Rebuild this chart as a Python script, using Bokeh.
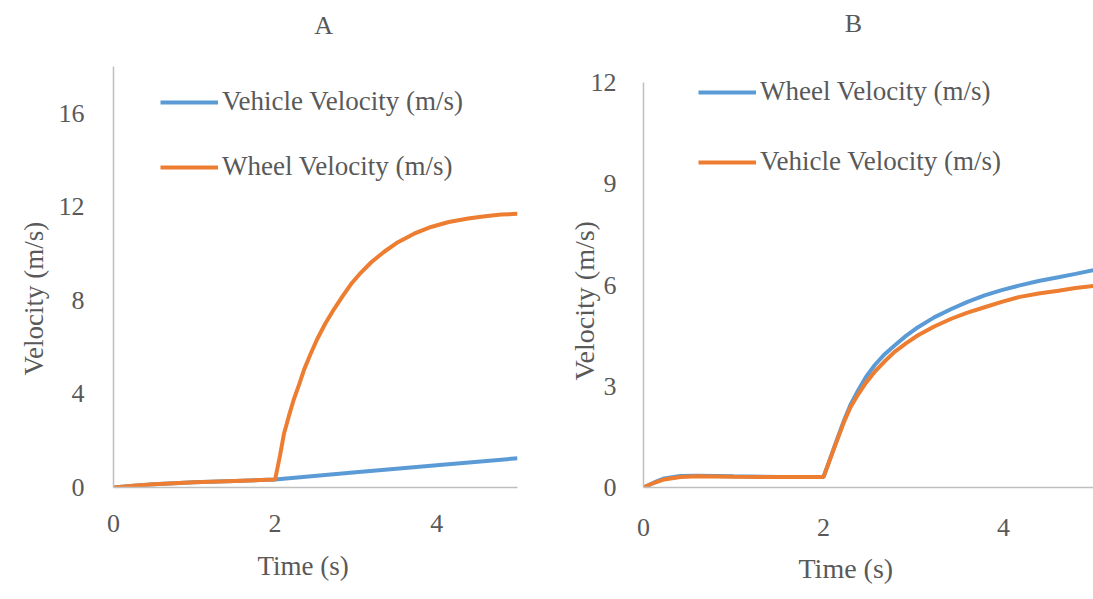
from bokeh.plotting import figure
from bokeh.models import Range1d, FixedTicker, Legend, LegendItem, Title, Label
from bokeh.layouts import row
from bokeh.embed import file_html
from bokeh.resources import INLINE

# ---------------- data ----------------
# Panel A
a_vehicle_t = [0, 0.25, 0.5, 1.0, 1.5, 2.0, 3.0, 4.0, 5.0]
a_vehicle_v = [0, 0.08, 0.14, 0.22, 0.28, 0.34, 0.65, 0.95, 1.25]
a_wheel_t = [0, 0.25, 0.5, 1.0, 1.5, 2.0, 2.06, 2.11, 2.17, 2.23, 2.30, 2.36, 2.44, 2.52, 2.62,
             2.73, 2.84, 2.94, 3.06, 3.19, 3.35, 3.52, 3.72, 3.93, 4.15, 4.39, 4.6, 4.8, 5.0]
a_wheel_v = [0, 0.08, 0.14, 0.22, 0.28, 0.34, 1.35, 2.3, 3.05, 3.75, 4.43, 5.05, 5.72, 6.34, 7.0,
             7.63, 8.2, 8.7, 9.18, 9.63, 10.08, 10.49, 10.85, 11.14, 11.35, 11.5, 11.6, 11.67, 11.7]
a_ticks_x = [0, 2, 4]
a_ticks_y = [0, 4, 8, 12, 16]

# Panel B
b_t = [0, 0.12, 0.23, 0.41, 0.6, 1.0, 1.5, 2.0, 2.06, 2.12, 2.23, 2.30, 2.38, 2.47, 2.57, 2.68,
       2.79, 2.92, 3.05, 3.23, 3.42, 3.6, 3.79, 3.98, 4.17, 4.39, 4.61, 4.8, 5.0]
b_wheel_v = [0, 0.15, 0.27, 0.34, 0.35, 0.33, 0.31, 0.31, 0.75, 1.2, 2.0, 2.45, 2.85, 3.27, 3.63, 3.95,
             4.21, 4.5, 4.75, 5.04, 5.29, 5.5, 5.69, 5.85, 5.98, 6.12, 6.23, 6.33, 6.44]
b_vehicle_v = [0, 0.14, 0.24, 0.31, 0.33, 0.32, 0.31, 0.31, 0.74, 1.18, 1.96, 2.38, 2.74, 3.1, 3.43, 3.74,
               4.02, 4.28, 4.51, 4.77, 5.0, 5.18, 5.34, 5.5, 5.64, 5.75, 5.83, 5.91, 5.97]
b_ticks_x = [0, 2, 4]
b_ticks_y = [0, 3, 6, 9, 12]

BLUE = "#5B9BD5"
ORANGE = "#ED7D31"
TXT = "#595959"
AX = "#BFBFBF"
FONT = "Liberation Serif"


def style(p, xt, yt, xstand, ystand, ybounds):
    p.xgrid.visible = False
    p.ygrid.visible = False
    p.outline_line_color = None
    p.xaxis.ticker = FixedTicker(ticks=xt)
    p.yaxis.ticker = FixedTicker(ticks=yt)
    p.yaxis.bounds = ybounds
    for ax in (p.xaxis[0], p.yaxis[0]):
        ax.axis_line_color = AX
        ax.axis_line_width = 1.5
        ax.major_tick_line_color = None
        ax.minor_tick_line_color = None
        ax.major_tick_in = 0
        ax.major_tick_out = 0
        ax.major_label_text_font = FONT
        ax.major_label_text_font_size = "26px"
        ax.major_label_text_color = TXT
    p.xaxis.major_label_standoff = xstand
    p.yaxis.major_label_standoff = ystand


def add_title(p, s, where, offset, standoff, size):
    p.add_layout(Title(text=s, text_font=FONT, text_font_size=size, text_font_style="normal",
                       text_color=TXT, align="left", offset=offset, standoff=standoff), where)


def panel_label(p, x, y, s):
    p.add_layout(Label(x=x, y=y, text=s, text_font=FONT, text_font_size="26px",
                       text_color=TXT, text_align="center", text_baseline="middle"))


def style_legend(lg, sp):
    lg.label_text_font = FONT
    lg.label_text_font_size = "27px"
    lg.label_text_color = TXT
    lg.glyph_width = 58
    lg.glyph_height = 26
    lg.label_height = 26
    lg.label_standoff = 4
    lg.spacing = sp
    lg.padding = 0
    lg.margin = 0
    lg.border_line_alpha = 0
    lg.background_fill_alpha = 0


H = 599
FRAME_BOTTOM = 487          # pixel row of the x axes
BOTTOM = H - FRAME_BOTTOM
# plot frames reach the top of the canvas; y ranges are extended so that the
# top tick sits where the reference puts it (A: 18 at row 66, B: 12 at row 82)
A_TOP = 18 * FRAME_BOTTOM / (FRAME_BOTTOM - 66)
B_TOP = 12 * FRAME_BOTTOM / (FRAME_BOTTOM - 82)

# ---------------- Panel A ----------------
pa = figure(width=548, height=H, output_backend="svg", toolbar_location=None,
            x_range=Range1d(0, 5), y_range=Range1d(0, A_TOP),
            min_border_left=113, min_border_right=31, min_border_top=0, min_border_bottom=BOTTOM)
pa.title.text = ""
pa.title.standoff = 0
style(pa, a_ticks_x, a_ticks_y, 27, 29, (0, 18))
ra1 = pa.line(a_vehicle_t, a_vehicle_v, line_color=BLUE, line_width=4)
ra2 = pa.line(a_wheel_t, a_wheel_v, line_color=ORANGE, line_width=4)
leg_a = Legend(items=[LegendItem(label="Vehicle Velocity (m/s)", renderers=[ra1]),
                      LegendItem(label="Wheel Velocity (m/s)", renderers=[ra2])],
               location=(47, 305))
style_legend(leg_a, 34)
pa.add_layout(leg_a)
panel_label(pa, 2.6, A_TOP * (FRAME_BOTTOM - 25) / FRAME_BOTTOM, "A")
add_title(pa, "Time (s)", "below", 144, 28, "27px")
add_title(pa, "Velocity (m/s)", "left", 112, 13, "27px")

# ---------------- Panel B ----------------
pb = figure(width=545, height=H, output_backend="svg", toolbar_location=None,
            x_range=Range1d(0, 5), y_range=Range1d(0, B_TOP),
            min_border_left=95, min_border_right=0, min_border_top=0, min_border_bottom=BOTTOM)
pb.title.text = ""
pb.title.standoff = 0
style(pb, b_ticks_x, b_ticks_y, 31, 27, (0, 12))
rb1 = pb.line(b_t, b_wheel_v, line_color=BLUE, line_width=4)
rb2 = pb.line(b_t, b_vehicle_v, line_color=ORANGE, line_width=4)
leg_b = Legend(items=[LegendItem(label="Wheel Velocity (m/s)", renderers=[rb1]),
                      LegendItem(label="Vehicle Velocity (m/s)", renderers=[rb2])],
               location=(55, 310))
style_legend(leg_b, 39)
pb.add_layout(leg_b)
panel_label(pb, 2.333, B_TOP * (FRAME_BOTTOM - 23) / FRAME_BOTTOM, "B")
add_title(pb, "Time (s)", "below", 155, 24, "28px")
add_title(pb, "Velocity (m/s)", "left", 107, -25, "28px")

layout = row(pa, pb, spacing=0)
open("out.html", "w").write(file_html(layout, INLINE))
